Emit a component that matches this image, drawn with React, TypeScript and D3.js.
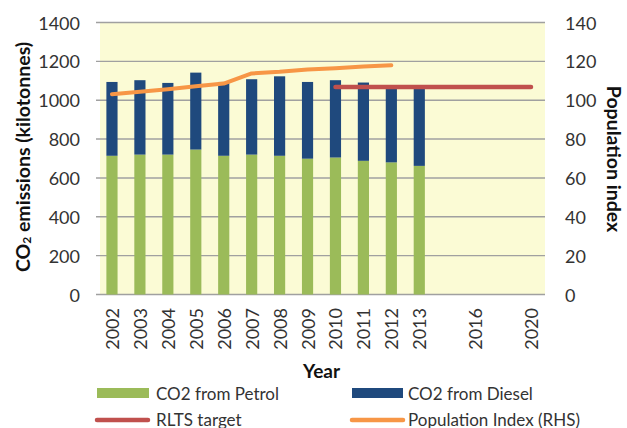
import React from "react";
import * as d3 from "d3";

const categories = ["2002", "2003", "2004", "2005", "2006", "2007", "2008", "2009", "2010", "2011", "2012", "2013", "gap1", "2016", "gap2", "2020"];
const yearLabels = ["2002", "2003", "2004", "2005", "2006", "2007", "2008", "2009", "2010", "2011", "2012", "2013", "", "2016", "", "2020"];
const barYears = ["2002", "2003", "2004", "2005", "2006", "2007", "2008", "2009", "2010", "2011", "2012", "2013"];
const petrol = [714, 720, 720, 746, 714, 720, 714, 699, 705, 688, 680, 662];
const diesel = [380, 383, 369, 396, 380, 388, 409, 395, 398, 403, 388, 398];
const popYears = ["2002", "2003", "2004", "2005", "2006", "2007", "2008", "2009", "2010", "2011", "2012"];
const population = [103.1, 104.3, 105.6, 107.2, 108.6, 113.8, 114.6, 115.8, 116.5, 117.3, 118.0];
const rltsYears = ["2010", "2020"];
const rlts = [1068, 1068];
const leftTicks = [0, 200, 400, 600, 800, 1000, 1200, 1400];
const rightTicks = [0, 20, 40, 60, 80, 100, 120, 140];

const W = 627, H = 428;
const plotL = 98, plotR = 545, plotT = 22.5, plotB = 294.5;
const FONT = "Lato, 'Open Sans', sans-serif";

const C_PETROL = "#9BBB59";
const C_DIESEL = "#1F497D";
const C_RLTS = "#C0504D";
const C_POP = "#F79646";
const C_GRID = "#A0A0A0";
const C_BG = "#FBFBD5";
const C_TEXT = "#333333";

export default function App() {
  const x = d3.scaleBand<string>().domain(categories).range([plotL, plotR]).paddingInner(0.6).paddingOuter(0.3);
  const yL = d3.scaleLinear().domain([0, 1400]).range([plotB, plotT]);
  const yR = d3.scaleLinear().domain([0, 140]).range([plotB, plotT]);
  const cx = (k: string) => (x(k) as number) + x.bandwidth() / 2;

  const popLine = d3.line<number>().x((_, i) => cx(popYears[i])).y((d) => yR(d))(population) || "";
  const rltsLine = d3.line<number>().x((_, i) => cx(rltsYears[i])).y((d) => yL(d))(rlts) || "";

  return (
    <svg width={W} height={H} style={{ position: "fixed", left: 0, top: 0, background: "#fff" }} fontFamily={FONT}>
      <rect x={100} y={plotT} width={plotR - 100} height={plotB - plotT} fill={C_BG} />
      {leftTicks.map((t) => (
        <line key={"g" + t} x1={96} x2={plotR} y1={yL(t)} y2={yL(t)} stroke={C_GRID} strokeWidth={1.4} />
      ))}
      {barYears.map((k, i) => (
        <g key={"b" + k}>
          <rect x={x(k)} width={x.bandwidth()} y={yL(petrol[i])} height={yL(0) - yL(petrol[i])} fill={C_PETROL} />
          <rect x={x(k)} width={x.bandwidth()} y={yL(petrol[i] + diesel[i])} height={yL(petrol[i]) - yL(petrol[i] + diesel[i])} fill={C_DIESEL} />
        </g>
      ))}
      <path d={rltsLine} fill="none" stroke={C_RLTS} strokeWidth={4.5} strokeLinecap="round" />
      <path d={popLine} fill="none" stroke={C_POP} strokeWidth={4} strokeLinecap="round" strokeLinejoin="round" />
      {leftTicks.map((t) => (
        <text key={"l" + t} x={80} y={yL(t)} textAnchor="end" dominantBaseline="central" fontSize={18} fill={C_TEXT}>{t}</text>
      ))}
      {rightTicks.map((t) => (
        <text key={"r" + t} x={565} y={yR(t)} textAnchor="start" dominantBaseline="central" fontSize={18} fill={C_TEXT}>{t}</text>
      ))}
      {categories.map((k, i) => (
        <text key={"x" + k} transform={`translate(${cx(k)},308) rotate(-90)`} textAnchor="end" dominantBaseline="central" fontSize={18} fill={C_TEXT}>{yearLabels[i]}</text>
      ))}
      <text transform={`translate(22,157) rotate(-90)`} textAnchor="middle" dominantBaseline="central" fontSize={19.5} fontWeight="bold" fill="#111">
        CO<tspan fontSize={12} dy={4}>2</tspan><tspan dy={-4}> emissions (kilotonnes)</tspan>
      </text>
      <text transform={`translate(614,159) rotate(90)`} textAnchor="middle" dominantBaseline="central" fontSize={19.5} fontWeight="bold" fill="#111">Population index</text>
      <text x={(plotL + plotR) / 2} y={370} textAnchor="middle" dominantBaseline="central" fontSize={19} fontWeight="bold" fill="#111">Year</text>
      <rect x={97} y={388} width={52} height={10} fill={C_PETROL} />
      <text x={156} y={393} dominantBaseline="central" fontSize={17} fill={C_TEXT}>CO2 from Petrol</text>
      <rect x={352} y={388} width={51} height={10} fill={C_DIESEL} />
      <text x={408} y={393} dominantBaseline="central" fontSize={17} fill={C_TEXT}>CO2 from Diesel</text>
      <line x1={97} x2={148} y1={420} y2={420} stroke={C_RLTS} strokeWidth={4.5} strokeLinecap="round" />
      <text x={156} y={419} dominantBaseline="central" fontSize={17} fill={C_TEXT}>RLTS target</text>
      <line x1={352} x2={403} y1={420} y2={420} stroke={C_POP} strokeWidth={4.5} strokeLinecap="round" />
      <text x={408} y={419} dominantBaseline="central" fontSize={17} fill={C_TEXT}>Population Index (RHS)</text>
    </svg>
  );
}
